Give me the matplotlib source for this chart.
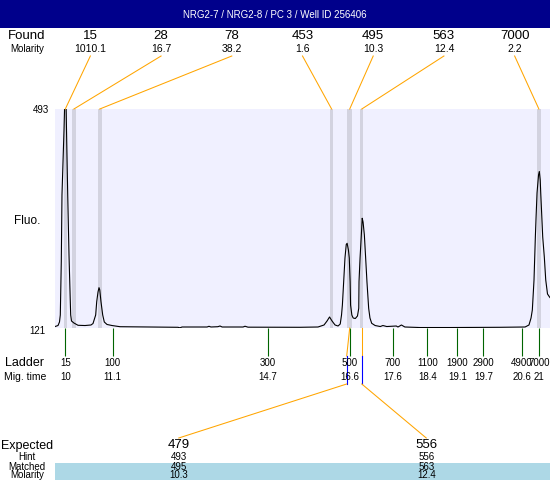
import matplotlib
matplotlib.use('Agg')
from matplotlib import pyplot as plt

plt.rcParams['font.family'] = ['Liberation Sans', 'DejaVu Sans']

title = 'NRG2-7 / NRG2-8 / PC 3 / Well ID 256406'

# peaks found in the run
found_size = [15, 28, 78, 453, 495, 563, 7000]
found_molarity = ['1010.1', '16.7', '38.2', '1.6', '10.3', '12.4', '2.2']
found_time = [10.0, 10.2, 10.8, 16.18, 16.6, 16.88, 20.99]
found_width = [0.08, 0.09, 0.09, 0.08, 0.12, 0.08, 0.08]

# ladder
ladder_size = [15, 100, 300, 500, 700, 1100, 1900, 2900, 4900, 7000]
ladder_time = [10, 11.1, 14.7, 16.6, 17.6, 18.4, 19.1, 19.7, 20.6, 21]

# expected fragments
expected_size = [479, 556]
expected_hint = [493, 556]
expected_matched = [495, 563]
expected_molarity = ['10.3', '12.4']
expected_time = [16.53, 16.88]

fluo_min, fluo_max = 121, 493

# electropherogram (migration time in s, fluorescence)
mig_time = [9.761, 9.831, 9.865, 9.884, 9.907, 9.923, 9.970, 9.988, 10.002, 10.016,
            10.028, 10.056, 10.086, 10.116, 10.125, 10.144, 10.20, 10.295, 10.457, 10.596,
            10.643, 10.705, 10.729, 10.759, 10.782, 10.80, 10.828, 10.868, 10.905, 10.968,
            11.084, 11.27, 11.97, 12.615, 12.66, 12.71, 13.29, 13.335, 13.38, 13.54,
            13.59, 13.64, 14.125, 14.17, 14.24, 15.447, 15.864, 16.004, 16.074, 16.132,
            16.19, 16.26, 16.33, 16.38, 16.41, 16.43, 16.46, 16.49, 16.52, 16.54,
            16.57, 16.59, 16.61, 16.62, 16.65, 16.68, 16.73, 16.78, 16.81, 16.816,
            16.84, 16.87, 16.89, 16.91, 16.94, 16.97, 17.0, 17.04, 17.07, 17.11,
            17.19, 17.31, 17.37, 17.46, 17.68, 17.72, 17.80, 17.88, 18.23, 18.93,
            20.09, 20.67, 20.76, 20.808, 20.838, 20.877, 20.908, 20.924, 20.947, 20.982,
            21.0, 21.021, 21.033, 21.079, 21.116, 21.149, 21.19, 21.237, 21.295]
fluo = [123.5, 125.2, 131.2, 143.1, 233.6, 347, 457.4, 508.4, 610, 508.4,
        457.4, 347, 245, 165.7, 143.1, 132.9, 129.5, 125.6, 125.2, 126.1,
        128.6, 143.1, 165.7, 182.2, 189.5, 185.6, 165.7, 143.1, 131.2, 127.0,
        125.2, 123.2, 122.7, 122.2, 121.3, 122.7, 122.7, 123.9, 122.7, 123.2,
        124.4, 122.7, 122.7, 124.0, 122.4, 122.2, 122.7, 126.1, 132.9, 139.7,
        132.9, 126.1, 124.4, 127.8, 143.0, 160.0, 199.7, 239.9, 262.9, 264.9,
        253.5, 239.9, 199.7, 160.0, 143.0, 138.0, 137.1, 141.4, 154.5, 199.7,
        239.9, 279.0, 307.4, 301.0, 279.0, 239.9, 199.7, 154.5, 138.0, 129.0,
        125.2, 123.5, 125.2, 123.5, 124.4, 122.7, 126.1, 122.7, 121.8, 121.8,
        122.2, 122.7, 126.1, 138.0, 151.6, 202.6, 275.6, 307.9, 350.4, 381.0,
        386.9, 372.5, 350.4, 275.6, 241.6, 202.6, 178.8, 173.7, 168.6]

# layout in pixels
W, H = 550, 480
PL, PR, PT, PB = 55, 550, 109, 328
ORANGE = '#FFA500'

fig = plt.figure(figsize=(W / 100, H / 100), dpi=100)
ax = fig.add_axes([PL / W, 1 - PB / H, (PR - PL) / W, (PB - PT) / H])
ax.set_xlim(9.761, 21.248)
ax.set_ylim(fluo_min, fluo_max)
ax.set_facecolor('#F0F0FF')
for s in ax.spines.values():
    s.set_visible(False)
ax.set_xticks([])
ax.set_yticks([])

for t, w in zip(found_time, found_width):
    ax.axvspan(t - w / 2, t + w / 2, color='#D3D3E0', lw=0)
ax.plot(mig_time, fluo, color='black', lw=0.8)

# overlay axes: x in migration time, y in pixels from the top
ov = fig.add_axes([0, 0, 1, 1], zorder=3)
ov.set_axis_off()
t0, t1 = ax.get_xlim()
k = (t1 - t0) / (PR - PL)
ov.set_xlim(t0 - PL * k, t0 + (W - PL) * k)
ov.set_ylim(H, 0)


def px(x):
    return t0 + (x - PL) * k


def col(i, n):
    return px(PL + (i + 0.5) * (PR - PL) / n)


LX = px(27)

# header
ov.axhspan(0, 28, color='#00008B', lw=0)
ov.text(px(W / 2), 15, title, color='white', ha='center', va='center', fontsize=7)

# found rows
ov.text(LX, 36, 'Found', ha='center', va='center', fontsize=9.5)
ov.text(LX, 48.5, 'Molarity', ha='center', va='center', fontsize=7)
n = len(found_size)
for i in range(n):
    ov.text(col(i, n), 36, str(found_size[i]), ha='center', va='center', fontsize=9.5)
    ov.text(col(i, n), 48.5, found_molarity[i], ha='center', va='center', fontsize=7.5)
    ov.plot([col(i, n), found_time[i]], [56, PT], color=ORANGE, lw=0.75)

# y labels
ov.text(px(41), 110, str(fluo_max), ha='center', va='center', fontsize=7)
ov.text(px(37), 331, str(fluo_min), ha='center', va='center', fontsize=7)
ov.text(LX, 221, 'Fluo.', ha='center', va='center', fontsize=8.5)

# ladder
ov.vlines(ladder_time, PB, 356, color='#006400', lw=0.8)
ov.text(px(25), 363, 'Ladder', ha='center', va='center', fontsize=9)
ov.text(px(25), 377, 'Mig. time', ha='center', va='center', fontsize=7.5)
for s, t in zip(ladder_size, ladder_time):
    ov.text(t, 363, str(s), ha='center', va='center', fontsize=7)
    ov.text(t, 377, '%g' % t, ha='center', va='center', fontsize=7)

# expected -> matched connectors
m = len(expected_size)
for j in range(m):
    ft = found_time[found_size.index(expected_matched[j])]
    et = expected_time[j]
    ov.plot([ft, et], [PB, 356], color=ORANGE, lw=0.75)
    ov.plot([et, et], [356, 384], color='#0000FF', lw=0.8)
    ov.plot([et, col(j, m)], [384, 438], color=ORANGE, lw=0.75)

# expected table
ov.axhspan(463, 480, xmin=PL / W, xmax=1, color='#ADD8E6', lw=0, zorder=0)
ov.text(LX, 445.5, 'Expected', ha='center', va='center', fontsize=9)
rows = [('Hint', expected_hint, 457), ('Matched', expected_matched, 466.5),
        ('Molarity', expected_molarity, 475.5)]
for lab, vals, y in rows:
    ov.text(LX, y, lab, ha='center', va='center', fontsize=7)
    for j in range(m):
        ov.text(col(j, m), y, str(vals[j]), ha='center', va='center', fontsize=7)
for j in range(m):
    ov.text(col(j, m), 445.5, str(expected_size[j]), ha='center', va='center', fontsize=9.5)

fig.savefig('out.png', dpi=100)
